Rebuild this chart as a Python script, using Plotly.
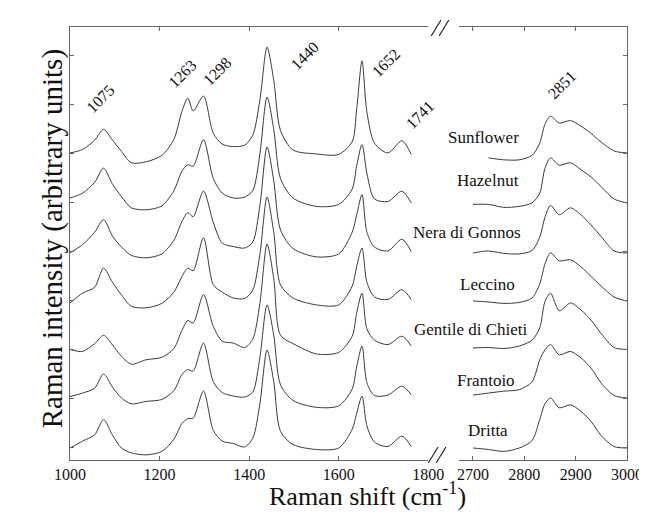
import plotly.graph_objects as go

# ---------------- data ----------------
samples = ["Sunflower", "Hazelnut", "Nera di Gonnos", "Leccino",
           "Gentile di Chieti", "Frantoio", "Dritta"]
offsets = [6, 5, 4, 3, 2, 1, 0]

# fingerprint region (cm-1)
shift_low = [1000, 1028, 1055, 1075, 1095, 1115, 1137, 1170, 1205, 1232, 1250,
             1263, 1275, 1298, 1320, 1340, 1365, 1390, 1408, 1424, 1440, 1455,
             1470, 1498, 1550, 1600, 1630, 1640, 1652, 1663, 1680, 1710, 1741, 1762]

sunflower_low = [0.02, 0.09, 0.28, 0.50, 0.28, 0.05, -0.18, -0.16, -0.03, 0.30, 0.87,
                 1.14, 0.88, 1.18, 0.42, 0.20, 0.15, 0.18, 0.38, 1.10, 2.18, 1.50,
                 0.48, 0.08, 0.00, -0.01, 0.25, 0.90, 1.90, 0.85, 0.22, 0.02, 0.27, -0.01]
hazelnut_low = [0.10, 0.20, 0.42, 0.71, 0.38, 0.13, -0.10, -0.14, -0.06, 0.25, 0.65,
                0.78, 0.75, 1.29, 0.50, 0.20, 0.10, 0.12, 0.25, 1.00, 2.16, 1.50,
                0.50, 0.10, -0.07, -0.03, 0.28, 0.75, 1.19, 0.60, 0.08, 0.03, 0.24, 0.00]
nera_low = [-0.02, 0.15, 0.40, 0.66, 0.32, 0.10, -0.07, -0.12, -0.04, 0.24, 0.62,
            0.80, 0.72, 1.24, 0.60, 0.18, 0.11, 0.08, 0.20, 0.95, 2.14, 1.45,
            0.45, 0.07, -0.10, -0.04, 0.40, 0.75, 1.17, 0.40, 0.10, 0.02, 0.26, 0.01]
leccino_low = [-0.04, 0.16, 0.28, 0.67, 0.38, 0.12, -0.11, -0.14, -0.05, 0.18, 0.50,
               0.67, 0.62, 1.29, 0.33, 0.18, 0.06, 0.05, 0.22, 0.95, 2.12, 1.40,
               0.33, 0.06, -0.08, -0.08, 0.30, 0.70, 1.08, 0.38, 0.08, 0.03, 0.23, 0.03]
gentile_low = [0.01, -0.03, 0.13, 0.30, 0.10, -0.13, -0.29, -0.20, -0.15, 0.03, 0.40,
               0.60, 0.55, 1.13, 0.48, 0.18, 0.14, 0.05, 0.22, 0.95, 2.16, 1.45,
               0.30, 0.13, -0.08, -0.05, 0.28, 0.75, 1.16, 0.43, 0.20, 0.11, 0.28, 0.08]
frantoio_low = [0.05, 0.12, 0.22, 0.51, 0.24, 0.02, -0.10, -0.05, -0.01, 0.17, 0.50,
                0.60, 0.57, 1.14, 0.35, 0.13, 0.06, 0.04, 0.14, 0.85, 1.92, 1.30,
                0.29, -0.03, -0.17, -0.14, 0.20, 0.65, 1.08, 0.33, 0.07, 0.08, 0.26, 0.09]
dritta_low = [0.00, 0.14, 0.27, 0.58, 0.26, 0.00, -0.10, -0.14, -0.07, 0.18, 0.50,
              0.60, 0.61, 1.16, 0.36, 0.14, 0.09, 0.02, 0.20, 0.90, 2.00, 1.35,
              0.34, 0.07, -0.03, 0.00, 0.38, 0.70, 1.06, 0.45, 0.12, 0.03, 0.24, 0.03]

# C-H stretching region (cm-1)
shift_high = [2700, 2730, 2760, 2790, 2815, 2830, 2840, 2851, 2868, 2890, 2910,
              2930, 2950, 2975, 3000]
sunflower_high = [None, -0.08, -0.12, -0.12, -0.03, 0.22, 0.60, 0.77, 0.63, 0.68, 0.57,
                  0.42, 0.24, 0.06, 0.02]
hazelnut_high = [-0.03, -0.03, -0.09, -0.07, 0.00, 0.20, 0.70, 0.92, 0.77, 0.82, 0.68,
                 0.53, 0.33, 0.08, 0.00]
nera_high = [-0.02, 0.02, -0.03, -0.04, 0.03, 0.30, 0.70, 0.95, 0.76, 0.90, 0.76,
             0.55, 0.31, 0.02, -0.02]
leccino_high = [0.00, -0.02, -0.05, -0.03, 0.06, 0.35, 0.75, 0.98, 0.82, 0.84, 0.70,
                0.50, 0.30, 0.08, 0.00]
gentile_high = [0.04, 0.05, 0.03, 0.08, 0.20, 0.45, 0.98, 1.16, 0.80, 0.96, 0.82,
                0.61, 0.33, 0.05, 0.01]
frantoio_high = [0.08, 0.12, 0.16, 0.19, 0.35, 0.80, 1.00, 1.11, 0.90, 0.97, 0.84,
                 0.63, 0.32, 0.07, 0.02]
dritta_high = [0.00, -0.03, -0.07, 0.00, 0.15, 0.58, 0.90, 1.02, 0.82, 0.88, 0.75,
               0.54, 0.25, 0.03, 0.00]

low_sets = [sunflower_low, hazelnut_low, nera_low, leccino_low,
            gentile_low, frantoio_low, dritta_low]
high_sets = [sunflower_high, hazelnut_high, nera_high, leccino_high,
             gentile_high, frantoio_high, dritta_high]

peak_labels = ["1075", "1263", "1298", "1440", "1652", "1741"]
peak_label_x = [1068, 1251, 1328, 1525, 1706, 1782]
peak_label_y = [7.14, 7.65, 7.69, 8.0, 7.86, 6.8]
peak_label_high = "2851"
peak_label_high_x = 2874
peak_label_high_y = 7.41

sample_label_px = [484, 489, 468, 488, 472, 487, 489]   # label centre (pixels)
sample_label_y = [6.33, 5.45, 4.39, 3.33, 2.41, 1.37, 0.35]

low_ticks = [1000, 1200, 1400, 1600, 1800]
high_ticks = [2700, 2800, 2900, 3000]

# ---------------- figure ----------------
W, H = 647, 517
ML, MR, MT, MB = 62, 16, 19, 65
PW = W - ML - MR
PH = H - MT - MB

def px2paper_x(px):
    return (px - ML) / PW

def px2paper_y(py):
    return (H - MB - py) / PH

line_col = "#3a3a3a"
axis_col = "#666666"
serif = "Times New Roman, Liberation Serif, DejaVu Serif, serif"

fig = go.Figure()
for name, off, ylo, yhi in zip(samples, offsets, low_sets, high_sets):
    fig.add_trace(go.Scatter(
        x=shift_low, y=[v + off for v in ylo], mode="lines",
        line=dict(color=line_col, width=1, shape="spline", smoothing=0.8),
        xaxis="x", yaxis="y", name=name, showlegend=False))
    fig.add_trace(go.Scatter(
        x=shift_high, y=[None if v is None else v + off for v in yhi], mode="lines",
        line=dict(color=line_col, width=1, shape="spline", smoothing=0.8),
        xaxis="x2", yaxis="y2", name=name, showlegend=False, connectgaps=False))

yrange = [-0.245, 8.59]
common_x = dict(showline=True, linecolor=axis_col, linewidth=1, mirror="ticks",
                ticks="inside", ticklen=4, tickcolor=axis_col, showgrid=False,
                zeroline=False, tickfont=dict(family=serif, size=16, color="#111"))
fig.update_layout(
    width=W, height=H,
    margin=dict(l=ML, r=MR, t=MT, b=MB),
    paper_bgcolor="white", plot_bgcolor="white",
    font=dict(family=serif),
    xaxis=dict(domain=[0, px2paper_x(428)], range=[1000, 1800],
               tickvals=low_ticks, anchor="y", **common_x),
    xaxis2=dict(domain=[px2paper_x(459), 1], range=[2672, 3000],
                tickvals=high_ticks, anchor="y2", **common_x),
    yaxis=dict(range=yrange, tickvals=list(range(9)), showticklabels=False,
               ticks="inside", ticklen=4, tickcolor=axis_col, showline=True,
               linecolor=axis_col, linewidth=1, showgrid=False, zeroline=False,
               anchor="x"),
    yaxis2=dict(range=yrange, tickvals=list(range(9)), showticklabels=False,
                ticks="inside", ticklen=4, tickcolor=axis_col, showline=True,
                linecolor=axis_col, linewidth=1, showgrid=False, zeroline=False,
                anchor="x2", side="right"),
)

ann = []
for t, x, y in zip(peak_labels, peak_label_x, peak_label_y):
    ann.append(dict(text=t, x=x, y=y, xref="x", yref="y", showarrow=False,
                    textangle=-45, font=dict(family=serif, size=16, color="#111")))
ann.append(dict(text=peak_label_high, x=peak_label_high_x, y=peak_label_high_y,
                xref="x2", yref="y2", showarrow=False, textangle=-45,
                font=dict(family=serif, size=16, color="#111")))
for name, px, y in zip(samples, sample_label_px, sample_label_y):
    ann.append(dict(text=name, x=px2paper_x(px), y=y, xref="paper", yref="y",
                    showarrow=False, xanchor="center",
                    font=dict(family=serif, size=17, color="#111")))
ann.append(dict(text="Raman shift (cm<sup>-1</sup>)", x=px2paper_x(366),
                y=px2paper_y(505), xref="paper", yref="paper", showarrow=False,
                font=dict(family=serif, size=26, color="#111")))
ann.append(dict(text="Raman intensity (arbitrary units)", x=px2paper_x(25),
                y=px2paper_y(231), xref="paper", yref="paper", showarrow=False,
                textangle=-90, font=dict(family=serif, size=29, color="#111")))
fig.update_layout(annotations=ann)

# axis break marks "//"
shapes = []
for (xa, ya) in [(431, 28), (439, 28), (428, 455), (436, 455)]:
    shapes.append(dict(type="line", xref="paper", yref="paper",
                       x0=px2paper_x(xa), y0=px2paper_y(ya),
                       x1=px2paper_x(xa + 10), y1=px2paper_y(ya - 16),
                       line=dict(color="#222", width=1.2)))
fig.update_layout(shapes=shapes)

fig.write_html("out.html")
